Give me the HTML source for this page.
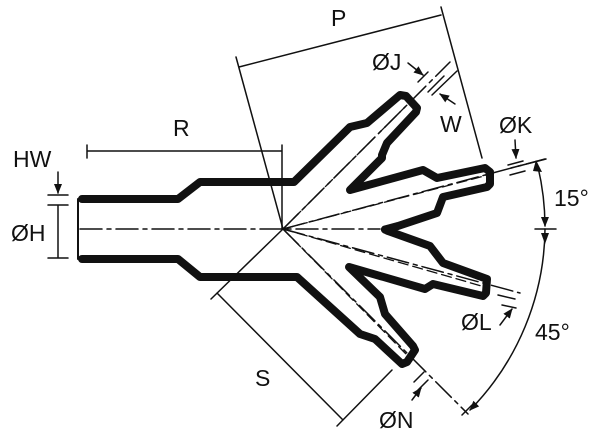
<!DOCTYPE html>
<html><head><meta charset="utf-8"><style>
html,body{margin:0;padding:0;background:#fff;}
svg{display:block;}
text{font-family:"Liberation Sans",sans-serif;font-size:23px;fill:#111;}
</style></head><body>
<svg width="600" height="439" viewBox="0 0 600 439" xmlns="http://www.w3.org/2000/svg">
<defs>
<marker id="ah" markerWidth="10" markerHeight="10" refX="9" refY="5" orient="auto" markerUnits="userSpaceOnUse">
<path d="M0,1 L10,5 L0,9 Z" fill="#111"/></marker>
</defs>
<g fill="none" stroke="#111" stroke-linejoin="round" stroke-linecap="round">
<!-- body outline top -->
<path stroke-width="8" d="M82,199 L178,199 L200,182 L294,182 L350,127 L367,123 L400,95 L406,96 L417,108 L416,112 L387,143 L382,155 L382,158 L350,190 L423,170 L437,178 L485,168 L490,172 L490,184 L487,187 L443,197 L437,213 L398,226 L385,229.5"/>
<!-- body outline bottom -->
<path stroke-width="8" d="M82,259 L178,259 L200,277 L297,277 L360,334 L375,339 L402,364 L407,362 L415,350 L413,346 L385,314 L380,297 L349,267 L425,289 L433,284 L483,296 L486,293 L487,279 L443,263 L430,246 L388,231 L385,229.5"/>
<!-- left end -->
<path stroke-width="2" d="M78,199 L78,259"/>
<!-- center lines -->
<g stroke-width="1.5" stroke-dasharray="22,5,4,5">
<path d="M80,229 L380,229"/>
<path d="M283,229 L450,62"/>
<path d="M283,229 L545,159"/>
<path d="M283,229 L520,293"/>
<path d="M283,229 L468,414"/>
</g>
<g stroke-width="1.3" stroke-dasharray="10,5">
<path d="M283,229 L405,107"/>
<path d="M283,229 L406,354"/>
<path d="M283,229 L488,175"/>
<path d="M283,229 L485,287"/>
</g>
<g stroke-width="1.5">
<!-- R -->
<path d="M87,151 L282,151 M87,145 L87,158 M282,145 L282,229"/>
<!-- P -->
<path d="M239,67 L441,15 M236,57 L283,229 M441,7 L482,158"/>
<!-- S -->
<path d="M217,293 L343,420 M211,299 L283,229 M337,426 L392,370"/>
<!-- HW / H -->
<path d="M48,195 L68,195 M48,205 L68,205 M48,258 L68,258 M58,205 L58,258"/>
<path d="M58,172 L58,193" marker-end="url(#ah)"/>
<!-- J / W ticks -->
<path d="M418,82 L428,72 M428,92 L444,76 M432,95 L457,71"/>
<path d="M408,63 L423,75" marker-end="url(#ah)"/>
<path d="M455,104 L440,94" marker-end="url(#ah)"/>
<!-- K -->
<path d="M508,165 L523,161 M510,175 L525,171 M511,168 L546,159"/>
<path d="M515,140 L516,158" marker-end="url(#ah)"/>
<!-- arcs -->
<path d="M538,167 A262,262 0 0 1 545,226" marker-end="url(#ah)"/>
<path d="M545,229 A262,262 0 0 1 470,410" marker-end="url(#ah)"/>
<path d="M535,229 L556,229"/>
<!-- L -->
<path d="M498,295 L515,299 M502,305 L516,308"/>
<path d="M500,325 L512,309" marker-end="url(#ah)"/>
<!-- N -->
<path d="M414,382 L424,372 M418,390 L428,380 M462,415 L472,405"/>
<path d="M412,400 L421,388" marker-end="url(#ah)"/>
</g>
</g>
<path d="M536,160 L542,172 L533,171 Z" fill="#111"/>
<path d="M541,233 L549,233 L545,244 Z" fill="#111"/>
<text x="173" y="136">R</text>
<text x="331" y="26">P</text>
<text x="255" y="386">S</text>
<text x="13" y="167">HW</text>
<text x="11" y="241">ØH</text>
<text x="372" y="70">ØJ</text>
<text x="440" y="132">W</text>
<text x="499" y="133">ØK</text>
<text x="554" y="206">15°</text>
<text x="461" y="330">ØL</text>
<text x="535" y="340">45°</text>
<text x="379" y="428">ØN</text>
</svg>
</body></html>
